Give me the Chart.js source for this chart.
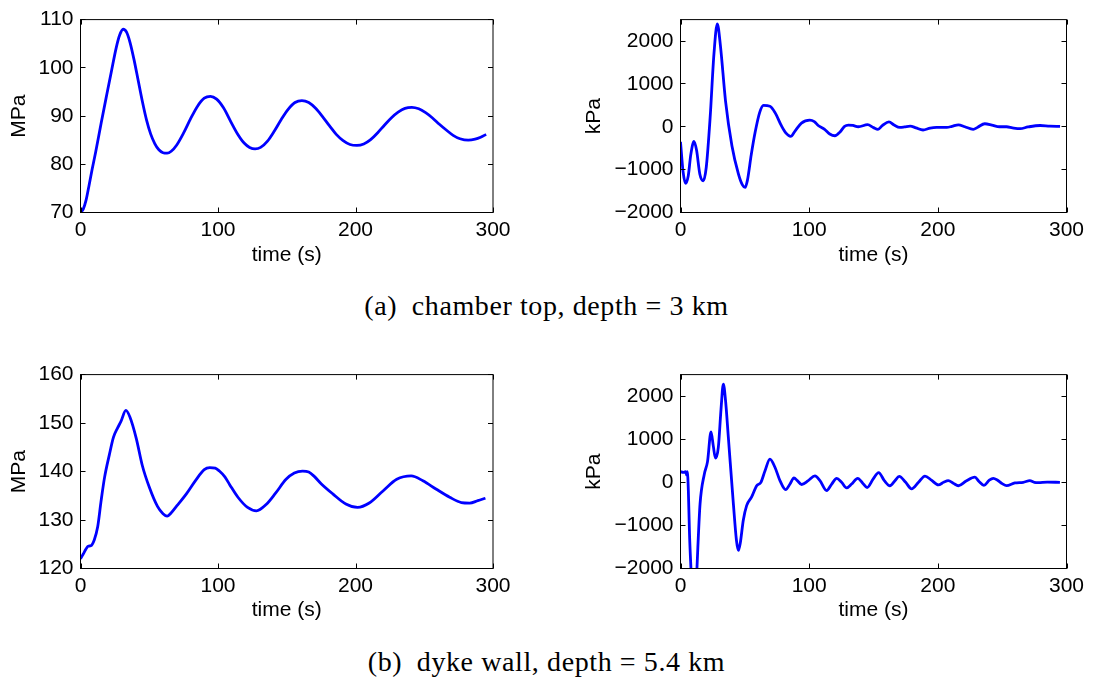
<!DOCTYPE html>
<html>
<head>
<meta charset="utf-8">
<script src="https://cdn.jsdelivr.net/npm/chart.js@4"></script>
<style>
  body { margin: 0; background: #fff; width: 1093px; height: 681px; position: relative; overflow: hidden; }
  canvas { position: absolute; }
  .caption {
    position: absolute; left: 0; width: 1093px; text-align: center;
    font-family: "Liberation Serif", serif; font-size: 28px; line-height: 28px;
    letter-spacing: 0.6px; color: #000; white-space: nowrap;
  }
</style>
</head>
<body>
<canvas id="chamber-mpa" width="546" height="285" style="left:0;top:0"></canvas>
<canvas id="chamber-kpa" width="547" height="285" style="left:546px;top:0"></canvas>
<div class="caption" style="top:292px">(a)&ensp;chamber top, depth = 3 km</div>
<canvas id="dyke-mpa" width="546" height="285" style="left:0;top:355px"></canvas>
<canvas id="dyke-kpa" width="547" height="285" style="left:546px;top:355px"></canvas>
<div class="caption" style="top:648px">(b)&ensp;dyke wall, depth = 5.4 km</div>
<script>
// ---- data ----------------------------------------------------------------
const timeTicks = [0, 100, 200, 300];
const mpaTicksTop = [70, 80, 90, 100, 110];
const mpaTicksBottom = [120, 130, 140, 150, 160];
const kpaTicks = [-2000, -1000, 0, 1000, 2000];
const kpaLimits = [-2000, 2500];

// chamber top: pressure (MPa)
const chamberTime = [0, 2, 4, 6, 8.5, 11, 15, 19, 22.5, 26, 28.5, 31, 33.5, 36, 39, 42, 45, 48, 51, 54, 57, 60, 63, 66, 70, 75, 80, 85, 90, 94.5, 99, 104, 109, 114, 119, 123, 127, 131, 136, 141, 146, 151, 156, 161, 166, 171, 176, 181, 186, 191, 196, 201, 206, 211, 216, 221, 226, 231, 236, 241, 246, 251, 256, 261, 266, 271, 276, 282, 287, 291, 295];
const chamberMPa = [70, 70.7, 72.5, 75.3, 79, 82.5, 88.5, 94.3, 99.3, 104.2, 106.8, 108, 107.4, 105.3, 101.6, 97.3, 93, 89.2, 86.3, 84.3, 83.0, 82.4, 82.3, 82.7, 84.0, 86.5, 89.4, 92.0, 93.7, 94.1, 93.5, 91.7, 89.0, 86.4, 84.4, 83.5, 83.2, 83.5, 84.8, 86.9, 89.3, 91.4, 92.8, 93.2, 92.8, 91.6, 89.9, 88.0, 86.2, 84.9, 84.1, 83.9, 84.2, 85.1, 86.5, 88.1, 89.6, 90.8, 91.6, 91.8, 91.5, 90.7, 89.6, 88.3, 87.1, 86.0, 85.3, 85.0, 85.2, 85.6, 86.2];

// chamber top: pressure change (kPa)
const chamberRateTime = [0, 2, 4, 6, 8, 10.5, 12.5, 15, 17.7, 20, 23, 26, 28.6, 31, 35, 40, 45, 48, 50.2, 52, 55, 58, 61.5, 64.5, 69.5, 73.5, 78.5, 82, 85.6, 89, 94, 100.5, 104, 107, 112, 116, 120, 124, 127.5, 130.5, 134, 138.2, 145.4, 150, 153.5, 157, 162, 166, 170.5, 174, 178.5, 183, 188.5, 194, 199, 207, 211, 216, 221, 227.5, 231, 236.5, 242, 248, 253.5, 258, 264, 270, 279.5, 287, 295];
const chamberKPa = [-350, -1050, -1320, -1150, -650, -340, -550, -1100, -1260, -950, 200, 1700, 2400, 1900, 600, -450, -1100, -1350, -1415, -1250, -650, -130, 330, 500, 480, 330, 20, -150, -225, -100, 85, 155, 120, 30, -60, -170, -210, -120, 10, 40, 30, 0, 48, -20, -60, 30, 115, 40, -15, -5, 15, -25, -75, -30, -15, -15, 10, 46, 0, -60, -10, 70, 40, 0, 0, -25, -45, -5, 30, 15, 10];

// dyke wall: pressure (MPa)
const dykeTime = [0, 2, 4, 5.5, 7.5, 10, 12.5, 15, 17.5, 21, 24, 27, 29.5, 33, 36, 40.5, 45, 50, 56, 60, 63, 66, 70, 77, 84, 90, 94, 98, 101, 105, 108.5, 114.5, 121.5, 128, 135, 142, 149.5, 155.5, 161.5, 166, 170, 175, 183.5, 193, 201.5, 210, 220, 230, 240.5, 249, 258.5, 268.5, 277, 283, 289, 294.5];
const dykeMPa = [122, 123, 124, 124.6, 124.7, 125.9, 128.6, 134, 138.8, 143.5, 147.1, 149, 150.4, 152.6, 151.2, 146.9, 141.2, 136.8, 132.8, 131.3, 130.8, 131.5, 132.9, 135.4, 138.3, 140.4, 140.8, 140.7, 140.1, 138.9, 137.3, 134.7, 132.6, 131.9, 133.2, 135.6, 138.4, 139.7, 140.1, 139.9, 139.0, 137.5, 135.4, 133.3, 132.6, 133.5, 136, 138.4, 139.1, 138.1, 136.4, 134.7, 133.6, 133.5, 134.0, 134.5];

// dyke wall: pressure change (kPa)
const dykeRateTime = [0, 2, 4, 4.8, 5.3, 6.1, 7, 8.2, 9.5, 11, 12.5, 13.5, 15.2, 18.5, 21, 23.7, 25.5, 27.2, 29.4, 31.5, 33.3, 35, 37.2, 41.1, 43.5, 45, 46.5, 48.8, 51.4, 55.3, 59.2, 62.5, 65.7, 69.5, 73.4, 77.3, 81.7, 85.1, 88.2, 90.8, 94.1, 99.3, 104.5, 108.4, 113.6, 117.5, 121.4, 125.2, 129.1, 133, 137.7, 141.6, 145, 149.8, 154, 158.4, 162.8, 166.5, 170, 175, 179.6, 185, 190, 195, 200.4, 204.5, 208.1, 212, 216, 222, 228.8, 232, 235.8, 240, 243.1, 246.2, 250, 253.4, 259.9, 266.4, 271.5, 275, 278, 285, 294.9];
const dykeKPa = [250, 230, 245, 170, 245, -190, -1200, -2050, -2900, -3100, -2200, -1500, -500, 190, 480, 1170, 840, 560, 810, 1700, 2280, 1900, 1040, -500, -1350, -1580, -1400, -880, -540, -340, -80, 0, 270, 540, 350, 40, -170, -40, 100, 40, -50, 40, 150, 40, -190, -40, 92, 0, -130, -40, 92, -20, -120, 80, 225, 40, -80, 30, 138, 0, -150, 0, 146, 50, -60, 0, 38, -20, -80, 30, 120, 20, -70, 50, 92, 54, -30, -77, -15, 0, 38, 0, -8, 5, 0];

// ---- drawing -------------------------------------------------------------
const axisFont = { family: "'Liberation Sans', Arial, sans-serif", size: 21 };

// matlab-style boxed axes with inward ticks on all four sides
const boxTicks = {
  id: 'boxTicks',
  afterDatasetsDraw(chart) {
    const { ctx, chartArea: a, scales: { x, y } } = chart;
    const len = 5;
    ctx.save();
    ctx.strokeStyle = '#000';
    ctx.lineWidth = 1;
    ctx.beginPath();
    for (const t of x.ticks) {
      const px = Math.round(x.getPixelForValue(t.value)) + 0.5;
      ctx.moveTo(px, a.bottom); ctx.lineTo(px, a.bottom - len);
      ctx.moveTo(px, a.top); ctx.lineTo(px, a.top + len);
    }
    for (const t of y.ticks) {
      const py = Math.round(y.getPixelForValue(t.value) - 0.5) + 0.5;
      ctx.moveTo(a.left, py); ctx.lineTo(a.left + len, py);
      ctx.moveTo(a.right, py); ctx.lineTo(a.right - len, py);
    }
    ctx.stroke();
    ctx.strokeRect(a.left, a.top, a.right - a.left, a.bottom - a.top);
    ctx.restore();
  }
};

const fmt = (v) => (v < 0 ? '\u2212' + Math.abs(v) : String(v));

function panel(id, time, values, yTicks, yLimits, unit, box) {
  new Chart(document.getElementById(id), {
    type: 'line',
    data: {
      datasets: [{
        data: time.map((t, i) => ({ x: t, y: values[i] })),
        borderColor: '#0000ff',
        borderWidth: 2.8,
        pointRadius: 0,
        fill: false,
        cubicInterpolationMode: 'monotone',
      }],
    },
    options: {
      responsive: false,
      animation: false,
      events: [],
      layout: { padding: { left: 0, top: box.top, right: box.right, bottom: 0 } },
      plugins: { legend: { display: false }, tooltip: { enabled: false } },
      scales: {
        x: {
          type: 'linear',
          min: timeTicks[0],
          max: timeTicks[timeTicks.length - 1],
          grid: { display: false, drawTicks: false },
          border: { display: false },
          afterBuildTicks: (s) => { s.ticks = timeTicks.map((v) => ({ value: v })); },
          ticks: { color: '#000', font: axisFont, padding: 5, maxRotation: 0, autoSkip: false, callback: fmt },
          title: { display: true, text: 'time (s)', color: '#000', font: axisFont, padding: { top: 0, bottom: 17.4 } },
          afterFit: (s) => { s.height = box.xh; },
        },
        y: {
          type: 'linear',
          min: yLimits[0],
          max: yLimits[1],
          grid: { display: false, drawTicks: false },
          border: { display: false },
          afterBuildTicks: (s) => { s.ticks = yTicks.map((v) => ({ value: v })); },
          ticks: { color: '#000', font: axisFont, padding: 7, autoSkip: false, callback: fmt },
          title: { display: true, text: unit, color: '#000', font: axisFont, padding: { top: box.tp, bottom: 0 } },
          afterFit: (s) => { s.width = box.yw; },
        },
      },
    },
    plugins: [boxTicks],
  });
}

const leftBoxTop = { yw: 80.5, top: 17.5, right: 53, xh: 72.5, tp: 6.4 };
const rightBoxTop = { yw: 134.5, top: 17.5, right: 26.5, xh: 72.5, tp: 35.4 };
const leftBoxBottom = { yw: 80.5, top: 18.5, right: 53, xh: 71.5, tp: 6.4 };
const rightBoxBottom = { yw: 134.5, top: 18.5, right: 26.5, xh: 71.5, tp: 35.4 };

panel('chamber-mpa', chamberTime, chamberMPa, mpaTicksTop, [70, 110], 'MPa', leftBoxTop);
panel('chamber-kpa', chamberRateTime, chamberKPa, kpaTicks, kpaLimits, 'kPa', rightBoxTop);
panel('dyke-mpa', dykeTime, dykeMPa, mpaTicksBottom, [120, 160], 'MPa', leftBoxBottom);
panel('dyke-kpa', dykeRateTime, dykeKPa, kpaTicks, kpaLimits, 'kPa', rightBoxBottom);
</script>
</body>
</html>
